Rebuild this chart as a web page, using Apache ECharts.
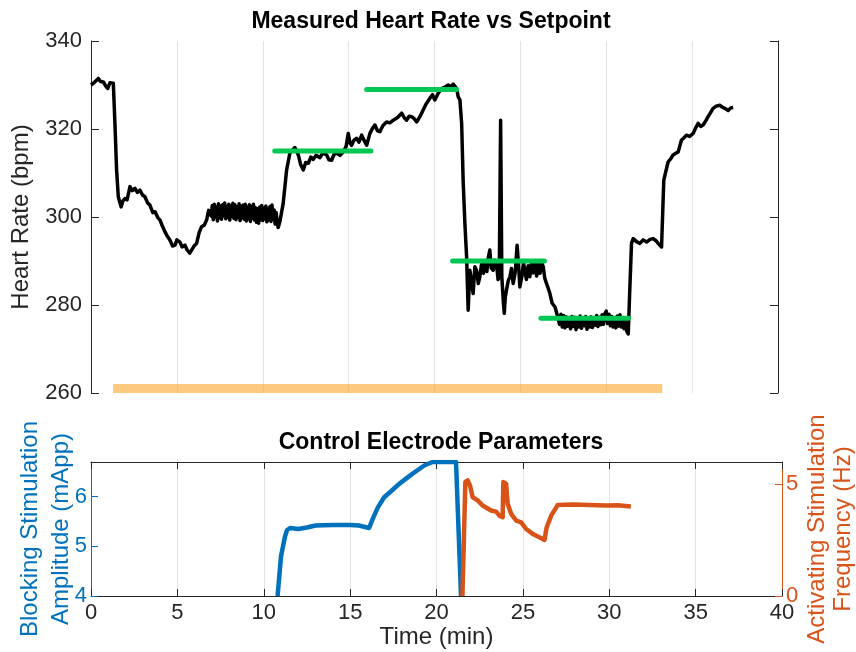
<!DOCTYPE html>
<html>
<head>
<meta charset="utf-8">
<script src="https://cdn.jsdelivr.net/npm/echarts@6/dist/echarts.min.js"></script>
<style>
html, body { margin: 0; padding: 0; background: #fff; }
#main { width: 856px; height: 652px; }
</style>
</head>
<body>
<div id="main"></div>
<script>
// measured heart rate [time (min), bpm]
var heartRate = [
  [0.0,330.0],[0.2,330.6],[0.43,331.5],[0.55,330.8],[0.72,330.7],[0.85,329.8],[0.97,329.2],[1.1,330.5],[1.2,330.7],[1.3,330.4],
  [1.4,320.5],[1.49,310.7],[1.59,304.6],[1.75,302.3],[1.85,303.6],[1.98,304.2],[2.1,303.9],[2.27,306.9],[2.4,306.0],[2.56,306.5],
  [2.7,305.6],[2.85,306.1],[3.0,305.0],[3.14,304.6],[3.3,303.2],[3.43,302.7],[3.6,301.0],[3.73,301.2],[3.9,299.8],[4.02,299.3],
  [4.15,298.0],[4.31,296.6],[4.45,295.6],[4.6,294.7],[4.75,293.4],[4.89,293.6],[5.0,294.8],[5.18,294.3],[5.3,293.2],[5.47,293.6],
  [5.6,292.5],[5.75,291.8],[5.86,292.1],[6.0,293.4],[6.15,294.0],[6.3,296.5],[6.44,297.8],[6.6,298.2],[6.73,299.3],[6.85,301.5],
  [6.93,301.9],[7.0,300.2],[7.06,302.6],[7.12,299.4],[7.18,302.9],[7.24,300.0],[7.3,302.2],[7.36,299.1],[7.42,303.0],[7.48,299.8],
  [7.54,302.5],[7.6,299.5],[7.66,302.8],[7.72,300.3],[7.78,303.2],[7.84,299.6],[7.9,302.4],[7.96,299.9],[8.02,302.9],[8.08,299.3],
  [8.14,302.6],[8.2,300.1],[8.26,303.1],[8.32,299.7],[8.38,302.8],[8.44,299.4],[8.5,302.3],[8.56,299.9],[8.62,303.0],[8.68,299.2],
  [8.74,302.5],[8.8,299.8],[8.86,302.7],[8.92,299.5],[8.98,302.9],[9.04,299.1],[9.1,302.2],[9.16,299.6],[9.22,302.8],[9.28,299.0],
  [9.34,302.4],[9.4,299.7],[9.46,302.9],[9.52,299.3],[9.58,302.1],[9.64,298.8],[9.7,301.9],[9.76,298.6],[9.82,302.3],[9.88,299.4],
  [9.94,302.6],[10.0,299.2],[10.06,302.0],[10.12,299.6],[10.18,302.5],[10.24,298.9],[10.3,301.8],[10.36,299.3],[10.42,302.4],[10.48,299.0],
  [10.54,302.7],[10.6,299.5],[10.66,301.6],[10.72,298.4],[10.78,301.0],[10.84,298.8],[10.9,297.6],
  [11.0,299.0],[11.19,303.1],[11.39,310.7],[11.58,314.5],[11.87,315.8],[12.07,314.1],[12.2,312.0],[12.36,310.7],[12.5,312.4],[12.65,312.2],
  [12.8,313.6],[12.94,313.1],[13.1,314.0],[13.33,313.5],[13.5,314.6],[13.72,314.1],[13.85,313.0],[14.01,312.9],[14.15,314.2],[14.3,314.5],
  [14.5,314.0],[14.69,314.8],[14.85,316.0],[14.98,319.0],[15.08,316.8],[15.17,316.3],[15.3,317.4],[15.47,317.9],[15.6,317.0],[15.76,318.6],
  [15.9,317.4],[16.05,316.3],[16.24,319.0],[16.4,320.2],[16.53,320.9],[16.68,319.6],[16.82,319.4],[17.0,320.8],[17.21,321.6],[17.4,321.4],
  [17.6,322.0],[17.85,322.6],[18.09,323.6],[18.25,322.5],[18.38,322.0],[18.52,322.9],[18.67,322.8],[18.8,322.4],[18.96,321.6],[19.15,322.8],
  [19.34,324.3],[19.5,325.6],[19.73,327.0],[19.88,327.8],[20.02,326.6],[20.2,328.0],[20.41,329.2],[20.6,329.5],[20.8,330.0],[20.95,329.6],
  [21.09,330.2],[21.2,329.8],[21.29,329.2],[21.38,327.3],[21.48,326.6],[21.58,321.3],[21.67,308.0],[21.77,298.5],[21.87,290.9],[21.96,278.8],
  [22.06,287.9],[22.15,285.5],[22.25,282.6],[22.35,288.7],[22.45,287.9],[22.55,284.9],[22.64,286.4],[22.75,289.6],[22.85,287.2],[22.93,289.4],
  [23.05,287.6],[23.12,290.5],[23.22,292.5],[23.3,288.4],[23.42,287.9],[23.5,290.2],[23.61,289.4],[23.7,285.8],[23.77,286.4],[23.85,322.0],
  [23.92,286.4],[24.0,281.2],[24.06,278.1],[24.12,281.7],[24.19,283.4],[24.3,285.6],[24.39,286.4],[24.48,288.3],[24.58,284.9],[24.7,287.4],
  [24.81,293.6],[24.9,288.8],[24.97,284.1],[25.1,286.8],[25.18,289.6],[25.26,287.9],[25.35,285.8],[25.45,288.9],[25.55,286.4],[25.65,289.8],
  [25.75,287.3],[25.84,289.4],[25.95,286.6],[26.05,289.9],[26.14,287.2],[26.25,289.5],[26.33,288.7],[26.42,286.1],[26.52,284.9],[26.62,283.8],
  [26.72,282.6],[26.85,280.4],[27.01,279.6],[27.1,278.4],
  [27.2,278.1],[27.28,275.6],[27.36,277.9],[27.44,275.0],[27.52,277.6],[27.6,274.8],[27.68,277.3],[27.76,275.2],[27.84,277.0],[27.92,274.6],
  [28.0,277.4],[28.08,275.1],[28.16,277.2],[28.24,274.4],[28.32,276.9],[28.4,275.0],[28.48,277.5],[28.56,274.7],[28.64,277.1],[28.72,275.3],
  [28.8,277.4],[28.88,274.5],[28.96,276.8],[29.04,275.0],[29.12,277.3],[29.2,274.9],[29.28,277.0],[29.36,275.4],[29.44,277.6],[29.52,275.1],
  [29.6,277.2],[29.68,275.5],[29.76,277.8],[29.84,275.6],[29.92,278.0],[30.0,278.6],[30.08,275.8],[30.16,277.9],[30.24,275.3],[30.32,277.4],
  [30.4,275.0],[30.48,277.1],[30.56,274.8],[30.64,277.5],[30.72,275.2],[30.8,277.8],[30.88,275.0],[30.96,276.9],[31.04,274.6],[31.12,276.4],
  [31.2,274.0],[31.28,273.4],
  [31.37,283.4],[31.47,294.0],[31.57,295.1],[31.76,294.4],[31.96,294.0],[32.15,294.8],
  [32.35,294.3],[32.55,294.9],[32.73,295.1],[32.9,294.6],[33.02,294.0],[33.22,293.2],[33.35,308.4],[33.6,312.5],[33.75,313.2],[33.89,314.1],
  [34.05,314.5],[34.19,314.8],[34.38,317.5],[34.5,317.9],[34.67,318.6],[34.85,318.3],[35.06,319.0],[35.2,320.2],[35.35,321.3],[35.5,320.6],
  [35.64,320.9],[35.8,321.9],[35.93,322.8],[36.1,323.9],[36.22,324.7],[36.4,325.2],[36.61,325.4],[36.75,325.0],[36.9,324.7],[37.0,324.3],
  [37.1,324.2],[37.25,324.8],[37.39,324.9]
];

// heart rate setpoints
var setStart = [10.7, 16.05, 21.05, 26.2];
var setEnd   = [16.3, 21.3, 26.4, 31.3];
var setValue = [315, 329, 290, 277];

// orange band along the bottom of the heart rate plot
var bandSpan = [1.28, 33.26];
var bandLevel = 261;

// blocking stimulation amplitude (mApp)
var blocking = [
  [10.8,4.0],[11.0,4.8],[11.23,5.2],[11.35,5.33],[11.52,5.37],[12.0,5.35],[12.5,5.38],[13.0,5.42],[14.0,5.43],[15.0,5.43],
  [15.5,5.42],[16.1,5.37],[16.3,5.55],[16.6,5.78],[16.97,5.99],[17.4,6.12],[17.84,6.26],[18.6,6.46],[19.29,6.63],[19.77,6.7],
  [21.13,6.7],[21.42,4.0]
];

// activating stimulation frequency (Hz)
var activating = [
  [21.5,0],[21.67,5.1],[21.8,5.18],[21.94,4.95],[22.09,4.43],[22.38,4.28],[22.67,4.05],[23.16,3.83],[23.45,3.78],[23.64,3.6],
  [23.83,3.53],[23.87,5.1],[24.03,5.03],[24.12,4.13],[24.32,3.68],[24.61,3.38],[24.9,3.3],[25.19,3.0],[25.57,2.78],[25.96,2.63],
  [26.25,2.51],[26.38,3.08],[26.64,3.6],[27.02,4.08],[27.9,4.1],[29.82,4.05],[30.5,4.06],[31.25,4.01]
];

var FONT = 'Liberation Sans, Arial, Helvetica, sans-serif';
var AX = '#262626';
var BLUE = '#0072BD';
var ORANGE = '#D95319';

var chart = echarts.init(document.getElementById('main'));

var series = [
  {
    type: 'line', xAxisIndex: 0, yAxisIndex: 0, z: 1,
    data: [[bandSpan[0], bandLevel], [bandSpan[1], bandLevel]],
    showSymbol: false, silent: true,
    lineStyle: { color: 'rgba(250,165,40,0.6)', width: 9, cap: 'butt' }
  },
  {
    type: 'line', xAxisIndex: 0, yAxisIndex: 0, z: 3,
    data: heartRate, showSymbol: false, silent: true,
    lineStyle: { color: '#000', width: 3.5, join: 'round' }
  }
];
for (var i = 0; i < setValue.length; i++) {
  series.push({
    type: 'line', xAxisIndex: 0, yAxisIndex: 0, z: 4,
    data: [[setStart[i], setValue[i]], [setEnd[i], setValue[i]]],
    showSymbol: false, silent: true,
    lineStyle: { color: '#00C853', width: 5, cap: 'round' }
  });
}
series.push({
  type: 'line', xAxisIndex: 1, yAxisIndex: 2, z: 3,
  data: blocking, showSymbol: false, silent: true,
  lineStyle: { color: BLUE, width: 4.5, join: 'round' }
});
series.push({
  type: 'line', xAxisIndex: 1, yAxisIndex: 3, z: 4,
  data: activating, showSymbol: false, silent: true,
  lineStyle: { color: ORANGE, width: 4.5, join: 'round' }
});

var grey = { show: true, lineStyle: { color: '#e2e2e2', width: 1 } };

option = {
  animation: false,
  backgroundColor: '#fff',
  textStyle: { fontFamily: FONT },
  grid: [
    { left: 91, top: 41, width: 687, height: 352, containLabel: false, outerBoundsMode: 'none' },
    { left: 91, top: 462, width: 691, height: 134, containLabel: false, outerBoundsMode: 'none' }
  ],
  xAxis: [
    {
      gridIndex: 0, type: 'value', min: 0, max: 40, interval: 5,
      axisLine: { show: false, onZero: false }, axisTick: { show: false }, axisLabel: { show: false },
      splitLine: grey
    },
    {
      gridIndex: 1, type: 'value', min: 0, max: 40, interval: 5, position: 'bottom',
      axisLine: { onZero: false, lineStyle: { color: AX, width: 1 } },
      axisTick: { inside: true, length: 7, lineStyle: { color: AX } },
      axisLabel: { fontSize: 22, color: AX, margin: 6, fontFamily: FONT },
      splitLine: grey,
      name: 'Time (min)', nameLocation: 'middle', nameGap: 29,
      nameTextStyle: { fontSize: 24, color: AX, fontFamily: FONT }
    },
    {
      gridIndex: 1, type: 'value', min: 0, max: 40, interval: 5, position: 'top',
      axisLine: { onZero: false, lineStyle: { color: AX, width: 1 } },
      axisTick: { inside: true, length: 7, lineStyle: { color: AX } },
      axisLabel: { show: false }, splitLine: { show: false }
    }
  ],
  yAxis: [
    {
      gridIndex: 0, type: 'value', min: 260, max: 340, interval: 20, position: 'left',
      axisLine: { show: true, onZero: false, lineStyle: { color: AX, width: 1 } },
      axisTick: { show: true, inside: true, length: 8, lineStyle: { color: AX } },
      axisLabel: { fontSize: 22, color: AX, margin: 9, fontFamily: FONT },
      splitLine: { show: false },
      name: 'Heart Rate (bpm)', nameLocation: 'middle', nameGap: 58, nameRotate: 90,
      nameTextStyle: { fontSize: 24, color: AX, fontFamily: FONT }
    },
    {
      gridIndex: 0, type: 'value', min: 260, max: 340, interval: 20, position: 'right',
      axisLine: { show: true, onZero: false, lineStyle: { color: AX, width: 1 } },
      axisTick: { show: true, inside: true, length: 8, lineStyle: { color: AX } },
      axisLabel: { show: false }, splitLine: { show: false }
    },
    {
      gridIndex: 1, type: 'value', min: 4, max: 6.7, interval: 1, position: 'left',
      axisLine: { show: true, onZero: false, lineStyle: { color: BLUE, width: 1 } },
      axisTick: { show: true, inside: true, length: 7, lineStyle: { color: BLUE } },
      axisLabel: { fontSize: 22, color: BLUE, margin: 4, showMaxLabel: false, fontFamily: FONT },
      splitLine: { show: false },
      name: 'Blocking Stimulation\nAmplitude (mApp)', nameLocation: 'middle', nameGap: 14, nameRotate: 90,
      nameMoveOverlap: false,
      nameTextStyle: { fontSize: 24, color: BLUE, lineHeight: 31, fontFamily: FONT }
    },
    {
      gridIndex: 1, type: 'value', min: 0, max: 6, interval: 5, position: 'right',
      axisLine: { show: true, onZero: false, lineStyle: { color: ORANGE, width: 1 } },
      axisTick: { show: true, inside: true, length: 7, lineStyle: { color: ORANGE } },
      axisLabel: { fontSize: 22, color: ORANGE, margin: 4, showMaxLabel: false, fontFamily: FONT },
      splitLine: { show: false },
      name: 'Activating Stimulation\nFrequency (Hz)', nameLocation: 'middle', nameGap: 22, nameRotate: 90,
      nameMoveOverlap: false,
      nameTextStyle: { fontSize: 24, color: ORANGE, lineHeight: 26, fontFamily: FONT }
    }
  ],
  graphic: [
    {
      type: 'text', x: 431, y: 22, silent: true,
      style: { text: 'Measured Heart Rate vs Setpoint', font: 'bold 23px ' + FONT, fill: '#000',
               align: 'center', verticalAlign: 'middle', textAlign: 'center', textVerticalAlign: 'middle' }
    },
    {
      type: 'text', x: 441, y: 443, silent: true,
      style: { text: 'Control Electrode Parameters', font: 'bold 23px ' + FONT, fill: '#000',
               align: 'center', verticalAlign: 'middle', textAlign: 'center', textVerticalAlign: 'middle' }
    }
  ],
  series: series
};

chart.setOption(option);
</script>
</body>
</html>
